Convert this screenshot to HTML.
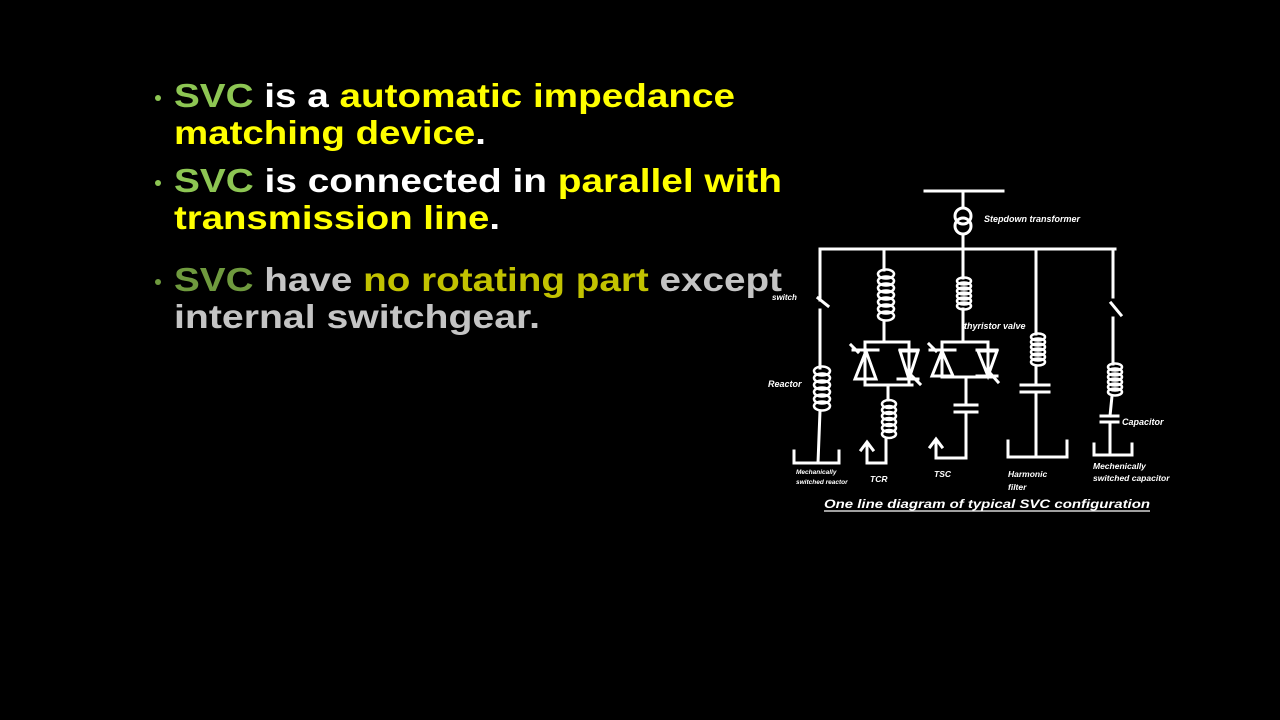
<!DOCTYPE html>
<html><head><meta charset="utf-8"><style>
html,body{margin:0;padding:0;background:#000;width:1280px;height:720px;overflow:hidden}
svg{display:block}
</style></head><body>
<svg width="1280" height="720" viewBox="0 0 1280 720" xmlns="http://www.w3.org/2000/svg">
<rect width="1280" height="720" fill="#000"/>
<g font-family="Liberation Sans, sans-serif" font-weight="bold" font-size="33">
<circle cx="158" cy="98" r="3" fill="#8dc653"/>
<text x="174" y="107" textLength="561" lengthAdjust="spacingAndGlyphs"><tspan fill="#8dc653">SVC</tspan><tspan fill="#fff"> is a </tspan><tspan fill="#ffff00">automatic impedance</tspan></text>
<text x="174" y="144" textLength="312" lengthAdjust="spacingAndGlyphs"><tspan fill="#ffff00">matching device</tspan><tspan fill="#fff">.</tspan></text>
<circle cx="158" cy="183" r="3" fill="#8dc653"/>
<text x="174" y="192" textLength="608" lengthAdjust="spacingAndGlyphs"><tspan fill="#8dc653">SVC</tspan><tspan fill="#fff"> is connected in </tspan><tspan fill="#ffff00">parallel with</tspan></text>
<text x="174" y="229" textLength="326" lengthAdjust="spacingAndGlyphs"><tspan fill="#ffff00">transmission line</tspan><tspan fill="#fff">.</tspan></text>
<circle cx="158" cy="282" r="3" fill="#6f9a3e"/>
<text x="174" y="291" textLength="608" lengthAdjust="spacingAndGlyphs"><tspan fill="#6f9a3e">SVC</tspan><tspan fill="#c4c4c4"> have </tspan><tspan fill="#c2c200">no rotating part</tspan><tspan fill="#c4c4c4"> except</tspan></text>
<text x="174" y="328" textLength="366" lengthAdjust="spacingAndGlyphs" fill="#c4c4c4">internal switchgear.</text>
</g>
<g stroke="#fff" stroke-width="3" fill="none" stroke-linecap="square">
<line x1="925" y1="191" x2="1003" y2="191"/>
<line x1="963" y1="191" x2="963" y2="207"/>
<circle cx="963" cy="216" r="8"/><circle cx="963" cy="226" r="8"/>
<line x1="963" y1="234" x2="963" y2="249"/>
<line x1="820" y1="249" x2="1115" y2="249"/>
<line x1="820" y1="249" x2="820" y2="300"/>
<line x1="818" y1="298" x2="828" y2="306"/>
<line x1="820" y1="310" x2="820" y2="368"/>
<g stroke-width="2.5"><ellipse cx="822" cy="371" rx="8" ry="4.5"/><ellipse cx="822" cy="378" rx="8" ry="4.5"/><ellipse cx="822" cy="385" rx="8" ry="4.5"/><ellipse cx="822" cy="392" rx="8" ry="4.5"/><ellipse cx="822" cy="399" rx="8" ry="4.5"/><ellipse cx="822" cy="406" rx="8" ry="4.5"/></g>
<line x1="820" y1="411" x2="818" y2="463"/>
<polyline points="794,451 794,463 839,463 839,451"/>
<line x1="884" y1="249" x2="884" y2="270"/>
<g stroke-width="2.5"><ellipse cx="886" cy="274" rx="8" ry="4.5"/><ellipse cx="886" cy="281" rx="8" ry="4.5"/><ellipse cx="886" cy="288" rx="8" ry="4.5"/><ellipse cx="886" cy="295" rx="8" ry="4.5"/><ellipse cx="886" cy="302" rx="8" ry="4.5"/><ellipse cx="886" cy="309" rx="8" ry="4.5"/><ellipse cx="886" cy="316" rx="8" ry="4.5"/></g>
<line x1="884" y1="321" x2="884" y2="342"/>
<polyline points="865,342 909,342"/><line x1="865" y1="342" x2="865" y2="385"/><line x1="909" y1="342" x2="909" y2="385"/><line x1="865" y1="385" x2="912" y2="385"/>
<line x1="853" y1="350" x2="878" y2="350"/><polygon points="855,379 876,379 866,351"/><line x1="851" y1="345" x2="858" y2="352"/>
<line x1="900" y1="350" x2="918" y2="350"/><polygon points="900,351 918,351 909,379"/><line x1="898" y1="379" x2="918" y2="379"/><line x1="912" y1="376" x2="920" y2="384"/>
<line x1="888" y1="385" x2="888" y2="400"/>
<g stroke-width="2.5"><ellipse cx="889" cy="404" rx="7" ry="4"/><ellipse cx="889" cy="410" rx="7" ry="4"/><ellipse cx="889" cy="416" rx="7" ry="4"/><ellipse cx="889" cy="422" rx="7" ry="4"/><ellipse cx="889" cy="428" rx="7" ry="4"/><ellipse cx="889" cy="434" rx="7" ry="4"/></g>
<polyline points="886,438 886,463 867,463 867,444"/>
<polyline points="861,450 867,442 873,450"/>
<line x1="963" y1="249" x2="963" y2="278"/>
<g stroke-width="2.5"><ellipse cx="964" cy="281" rx="7" ry="3.5"/><ellipse cx="964" cy="286" rx="7" ry="3.5"/><ellipse cx="964" cy="291" rx="7" ry="3.5"/><ellipse cx="964" cy="296" rx="7" ry="3.5"/><ellipse cx="964" cy="301" rx="7" ry="3.5"/><ellipse cx="964" cy="306" rx="7" ry="3.5"/></g>
<line x1="963" y1="309" x2="963" y2="342"/>
<line x1="942" y1="342" x2="988" y2="342"/><line x1="942" y1="342" x2="942" y2="377"/><line x1="988" y1="342" x2="988" y2="377"/><line x1="942" y1="377" x2="994" y2="377"/>
<line x1="930" y1="350" x2="955" y2="350"/><polygon points="932,376 953,376 942,351"/><line x1="929" y1="344" x2="936" y2="351"/>
<line x1="977" y1="350" x2="997" y2="350"/><polygon points="978,351 997,351 988,376"/><line x1="977" y1="376" x2="997" y2="376"/><line x1="990" y1="373" x2="998" y2="382"/>
<line x1="966" y1="377" x2="966" y2="404"/>
<line x1="955" y1="405" x2="977" y2="405"/><line x1="955" y1="412" x2="977" y2="412"/>
<polyline points="966,412 966,458 936,458 936,441"/>
<polyline points="930,447 936,439 942,447"/>
<line x1="1036" y1="249" x2="1036" y2="334"/>
<g stroke-width="2.5"><ellipse cx="1038" cy="337" rx="7" ry="3.5"/><ellipse cx="1038" cy="342" rx="7" ry="3.5"/><ellipse cx="1038" cy="347" rx="7" ry="3.5"/><ellipse cx="1038" cy="352" rx="7" ry="3.5"/><ellipse cx="1038" cy="357" rx="7" ry="3.5"/><ellipse cx="1038" cy="362" rx="7" ry="3.5"/></g>
<line x1="1036" y1="366" x2="1036" y2="385"/>
<line x1="1021" y1="385" x2="1049" y2="385"/><line x1="1021" y1="392" x2="1049" y2="392"/>
<line x1="1036" y1="392" x2="1036" y2="457"/>
<polyline points="1008,441 1008,457 1067,457 1067,441"/>
<line x1="1113" y1="249" x2="1113" y2="297"/>
<line x1="1111" y1="303" x2="1121" y2="315"/>
<line x1="1113" y1="318" x2="1113" y2="364"/>
<g stroke-width="2.5"><ellipse cx="1115" cy="367" rx="7" ry="3.5"/><ellipse cx="1115" cy="372" rx="7" ry="3.5"/><ellipse cx="1115" cy="377" rx="7" ry="3.5"/><ellipse cx="1115" cy="382" rx="7" ry="3.5"/><ellipse cx="1115" cy="387" rx="7" ry="3.5"/><ellipse cx="1115" cy="392" rx="7" ry="3.5"/></g>
<line x1="1112" y1="396" x2="1110" y2="416"/>
<line x1="1101" y1="416" x2="1118" y2="416"/><line x1="1101" y1="422" x2="1118" y2="422"/>
<line x1="1110" y1="422" x2="1110" y2="455"/>
<polyline points="1094,444 1094,455 1132,455 1132,444"/>
</g>
<g font-family="Liberation Sans, sans-serif" font-weight="bold" font-style="italic" fill="#fff">
<text x="984" y="222" font-size="9">Stepdown transformer</text>
<text x="772" y="300" font-size="8">switch</text>
<text x="964" y="329" font-size="9">thyristor valve</text>
<text x="768" y="387" font-size="9">Reactor</text>
<text x="1122" y="425" font-size="9">Capacitor</text>
<text x="796" y="474" font-size="6.5">Mechanically</text>
<text x="796" y="484" font-size="6.5">switched reactor</text>
<text x="870" y="482" font-size="8.5">TCR</text>
<text x="934" y="477" font-size="8.5">TSC</text>
<text x="1008" y="477" font-size="8.5">Harmonic</text>
<text x="1008" y="490" font-size="8.5">filter</text>
<text x="1093" y="469" font-size="8.5">Mechenically</text>
<text x="1093" y="481" font-size="8.5">switched capacitor</text>
<text x="824" y="508" font-size="12" textLength="326" lengthAdjust="spacingAndGlyphs">One line diagram of typical SVC configuration</text>
</g>
<line x1="824" y1="511" x2="1150" y2="511" stroke="#fff" stroke-width="1.2"/>
</svg>
</body></html>
